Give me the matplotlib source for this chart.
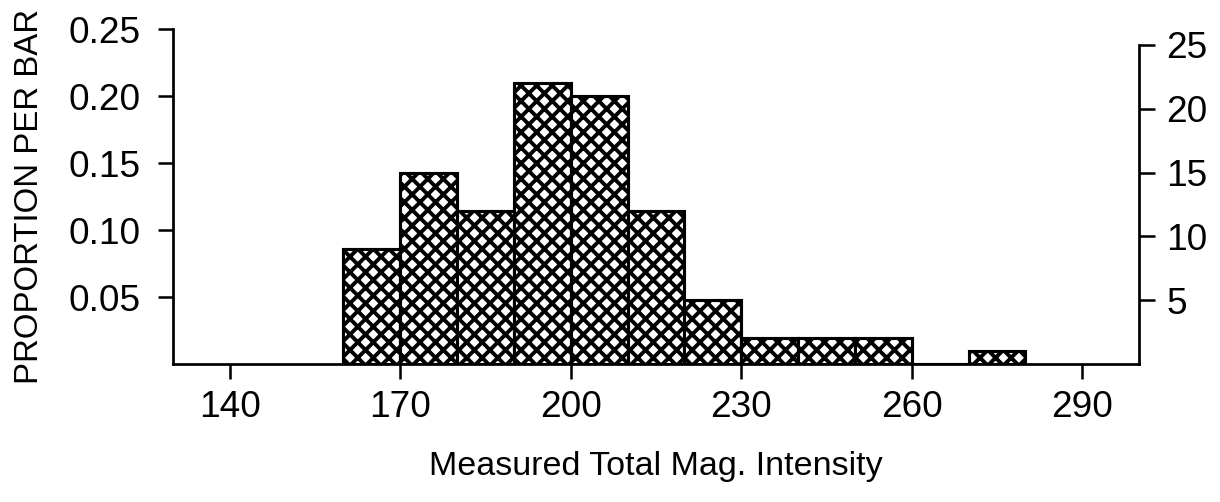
import matplotlib
matplotlib.use("Agg")
import matplotlib.pyplot as plt

# Histogram of measured total magnetic intensity
bin_edges = [160, 170, 180, 190, 200, 210, 220, 230, 240, 250, 260, 270, 280]
counts = [9, 15, 12, 22, 21, 12, 5, 2, 2, 2, 0, 1]
n_total = 105

x_ticks = [140, 170, 200, 230, 260, 290]
prop_ticks = [0.05, 0.10, 0.15, 0.20, 0.25]
prop_labels = ["0.05", "0.10", "0.15", "0.20", "0.25"]
count_ticks = [5, 10, 15, 20, 25]

x_label = "Measured Total Mag. Intensity"
y_label = "PROPORTION PER BAR"

plt.rcParams["font.family"] = ["Liberation Sans", "DejaVu Sans"]
plt.rcParams["hatch.linewidth"] = 2.0
plt.rcParams["hatch.color"] = "black"

DPI = 140
fig = plt.figure(figsize=(1220 / DPI, 502 / DPI), dpi=DPI)
ax = fig.add_axes([0.1418, 0.2749, 0.7918, 0.6673])

props = [c / n_total for c in counts]
widths = [b - a for a, b in zip(bin_edges[:-1], bin_edges[1:])]
ax.bar(bin_edges[:-1], props, width=widths, align="edge",
       facecolor="white", edgecolor="black", hatch="xxx", linewidth=1.6)

ax.set_xlim(130, 300)
ax.set_ylim(0, 0.25)

tick_fs = 19
ax.set_xticks(x_ticks)
ax.set_xticklabels([str(t) for t in x_ticks], fontsize=tick_fs)
ax.set_yticks(prop_ticks)
ax.set_yticklabels(prop_labels, fontsize=tick_fs)
ax.tick_params(axis="both", direction="out", length=7.5, width=1.3, color="black")
ax.tick_params(axis="x", pad=6)
ax.tick_params(axis="y", pad=9)

for s in ("top", "right"):
    ax.spines[s].set_visible(False)
for s in ("left", "bottom"):
    ax.spines[s].set_linewidth(1.4)

ax.set_xlabel(x_label, fontsize=17.5, labelpad=13)
ax.set_ylabel(y_label, fontsize=17, labelpad=12)

# Right axis: counts per bar on the same scale
ax2 = ax.twinx()
ax2.set_ylim(0, 0.25 * n_total)
ax2.set_yticks(count_ticks)
ax2.set_yticklabels([str(t) for t in count_ticks], fontsize=tick_fs)
ax2.tick_params(axis="y", direction="out", length=8, width=1.3, pad=6)
for s in ("top", "left", "bottom"):
    ax2.spines[s].set_visible(False)
ax2.spines["right"].set_bounds(0, 25)
ax2.spines["right"].set_linewidth(1.4)

fig.savefig("out.png", dpi=DPI, facecolor="white")
